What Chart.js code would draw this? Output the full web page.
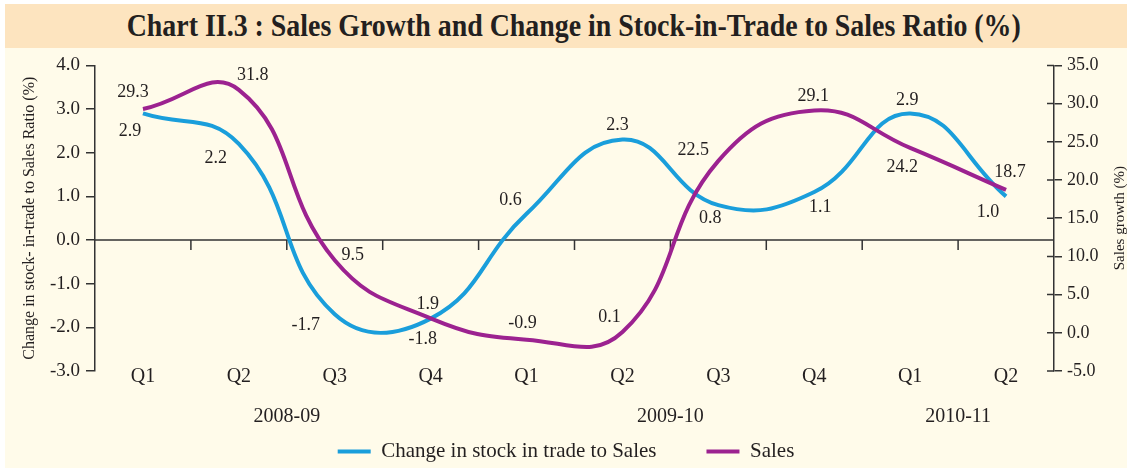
<!DOCTYPE html>
<html lang="en">
<head>
<meta charset="UTF-8">
<title>Chart II.3 - Sales Growth and Change in Stock-in-Trade to Sales Ratio</title>
<script src="https://cdn.jsdelivr.net/npm/chart.js"></script>
<style>
  body { margin: 0; background: #ffffff; }
  .wrap { position: absolute; left: 5px; top: 4px; width: 1122px; height: 464px; background: #fffbea; }
  .title { height: 44px; background: #fde4bf; text-align: center; font-family: "Liberation Serif", serif;
           font-weight: bold; font-size: 31px; color: #231f20; line-height: 44px; padding-left: 15px; }
  .title span { display: inline-block; transform: scaleX(0.9); white-space: nowrap; }
  .chart-box { position: relative; width: 1122px; height: 420px; }
</style>
</head>
<body>
<div class="wrap">
  <div class="title"><span>Chart II.3 : Sales Growth and Change in Stock-in-Trade to Sales Ratio (%)</span></div>
  <div class="chart-box"><canvas id="chart"></canvas></div>
</div>

<script>
// data
const quarters = ['Q1', 'Q2', 'Q3', 'Q4', 'Q1', 'Q2', 'Q3', 'Q4', 'Q1', 'Q2'];
const years = ['2008-09', '2009-10', '2010-11'];
const yearGroups = [[0, 3], [4, 7], [8, 9]];   // first/last quarter index of each year
const stockToSales = [2.9, 2.2, -1.7, -1.8, 0.6, 2.3, 0.8, 1.1, 2.9, 1.0];
const salesGrowth = [29.3, 31.8, 9.5, 1.9, -0.9, 0.1, 22.5, 29.1, 24.2, 18.7];
const leftTicks = [-3, -2, -1, 0, 1, 2, 3, 4];
const rightTicks = [-5, 0, 5, 10, 15, 20, 25, 30, 35];

const BLUE = '#1a9edb';
const PURPLE = '#9c2290';
const INK = '#231f20';
const SERIF = '"Liberation Serif", "Times New Roman", serif';

// label offsets from each point (px)
const stockLabelOffsets = [[-13, 18], [-23, 14], [-29, 11], [-8, 21], [-16, -14], [-5, -14], [-8, 13], [6, 15], [-3, -13], [-18, 16]];
const salesLabelOffsets = [[-10, -17], [14, -15], [18, -5], [-3, -14], [-4, -16], [-13, -15], [-25, -11], [-1, -14], [-8, 19], [4, -18]];

const extras = {
    id: 'extras',
    beforeDatasetsDraw(chart) {
        const { ctx, chartArea, scales } = chart;
        const x = scales.x, y = scales.y, y1 = scales.y1;
        const y0 = y.getPixelForValue(0);
        ctx.save();
        ctx.strokeStyle = '#333';
        ctx.lineWidth = 1.5;
        // zero line with quarter ticks
        ctx.beginPath();
        ctx.moveTo(chartArea.left, y0);
        ctx.lineTo(chartArea.right, y0);
        for (let i = 1; i < quarters.length; i++) {
            const bx = (x.getPixelForValue(i - 1) + x.getPixelForValue(i)) / 2;
            ctx.moveTo(bx, y0);
            ctx.lineTo(bx, y0 + 10);
        }
        // inner half of right axis ticks
        rightTicks.forEach(v => {
            const py = y1.getPixelForValue(v);
            ctx.moveTo(chartArea.right - 7, py);
            ctx.lineTo(chartArea.right, py);
        });
        ctx.stroke();
        ctx.restore();
    },
    afterDatasetsDraw(chart) {
        const { ctx, chartArea, scales } = chart;
        ctx.save();
        ctx.font = '18px ' + SERIF;
        ctx.fillStyle = INK;
        ctx.textAlign = 'center';
        ctx.textBaseline = 'middle';
        const drawLabels = (idx, values, offsets) => {
            const meta = chart.getDatasetMeta(idx);
            meta.data.forEach((pt, i) => {
                ctx.fillText(values[i].toFixed(1), pt.x + offsets[i][0], pt.y + offsets[i][1]);
            });
        };
        drawLabels(0, stockToSales, stockLabelOffsets);
        drawLabels(1, salesGrowth, salesLabelOffsets);

        // year labels
        ctx.font = '20px ' + SERIF;
        yearGroups.forEach((g, i) => {
            const cx = (scales.x.getPixelForValue(g[0]) + scales.x.getPixelForValue(g[1])) / 2;
            ctx.fillText(years[i], cx, 369);
        });

        // axis titles
        const cy = (chartArea.top + chartArea.bottom) / 2;
        ctx.font = '16px ' + SERIF;
        ctx.translate(25, cy);
        ctx.rotate(-Math.PI / 2);
        ctx.fillText('Change in stock- in-trade to Sales Ratio (%)', 0, 0);
        ctx.setTransform(1, 0, 0, 1, 0, 0);
        ctx.font = '15px ' + SERIF;
        ctx.translate(1115, cy);
        ctx.rotate(-Math.PI / 2);
        ctx.fillText('Sales growth (%)', 0, 0);
        ctx.restore();
    }
};

new Chart(document.getElementById('chart'), {
    type: 'line',
    data: {
        labels: quarters,
        datasets: [{
            label: 'Change in stock in trade to Sales',
            data: stockToSales,
            yAxisID: 'y',
            borderColor: BLUE,
            backgroundColor: BLUE,
            borderWidth: 4,
            pointRadius: 0,
            tension: 0.45,
            order: 1
        }, {
            label: 'Sales',
            data: salesGrowth,
            yAxisID: 'y1',
            borderColor: PURPLE,
            backgroundColor: PURPLE,
            borderWidth: 4,
            pointRadius: 0,
            tension: 0.45,
            order: 0
        }]
    },
    options: {
        responsive: true,
        maintainAspectRatio: false,
        animation: false,
        layout: { padding: { top: 17, left: 0, right: 0, bottom: -4 } },
        plugins: {
            tooltip: { enabled: false },
            legend: {
                position: 'bottom',
                labels: {
                    boxWidth: 33,
                    boxHeight: 4,
                    padding: 50,
                    color: INK,
                    font: { family: SERIF, size: 21 },
                    sort: (a, b) => a.datasetIndex - b.datasetIndex,
                    generateLabels(chart) {
                        const items = Chart.defaults.plugins.legend.labels.generateLabels(chart);
                        items.forEach(it => { it.lineWidth = 0; });
                        return items;
                    }
                }
            }
        },
        scales: {
            x: {
                offset: true,
                grid: { display: false, drawTicks: false },
                border: { display: false },
                // mirror keeps the labels from being clipped to the short scale box
                ticks: { color: INK, font: { family: SERIF, size: 20 }, mirror: true, padding: -18, maxRotation: 0 },
                afterFit(scale) { scale.height = 20; }
            },
            y: {
                position: 'left',
                min: -3,
                max: 4,
                afterBuildTicks(scale) { scale.ticks = leftTicks.map(v => ({ value: v })); },
                grid: { drawOnChartArea: false, tickLength: 9, color: '#333', lineWidth: 1.5 },
                border: { color: '#333', width: 1.5 },
                ticks: { color: INK, font: { family: SERIF, size: 19 }, padding: 6, callback: v => v.toFixed(1) },
                afterFit(scale) { scale.width = 90; }
            },
            y1: {
                position: 'right',
                min: -5,
                max: 35,
                afterBuildTicks(scale) { scale.ticks = rightTicks.map(v => ({ value: v })); },
                grid: { drawOnChartArea: false, tickLength: 8, color: '#333', lineWidth: 1.5 },
                border: { color: '#333', width: 1.5 },
                ticks: { color: INK, font: { family: SERIF, size: 18 }, padding: 5, callback: v => v.toFixed(1) },
                afterFit(scale) { scale.width = 73; }
            }
        }
    },
    plugins: [extras]
});
</script>
</body>
</html>
